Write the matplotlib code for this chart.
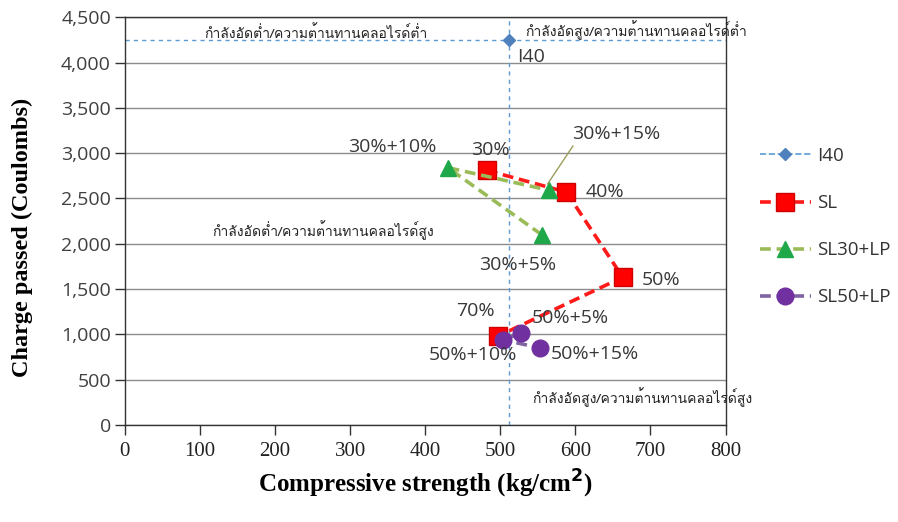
import matplotlib
matplotlib.use("Agg")
import matplotlib.pyplot as plt
from matplotlib import font_manager
from matplotlib.ft2font import FT2Font

# ---- data -------------------------------------------------------------
i40_x = [512]
i40_y = [4250]

sl_x = [482, 588, 663, 497]
sl_y = [2810, 2570, 1630, 980]
sl_labels = ["30%", "40%", "50%", "70%"]

sl30_x = [555, 430, 565]
sl30_y = [2100, 2840, 2590]
sl30_labels = ["30%+5%", "30%+10%", "30%+15%"]

sl50_x = [527, 503, 553]
sl50_y = [1010, 940, 850]
sl50_labels = ["50%+5%", "50%+10%", "50%+15%"]

quadrant_texts = [
    "กำลังอัดต่ำ/ความต้านทานคลอไรด์ต่ำ",
    "กำลังอัดสูง/ความต้านทานคลอไรด์ต่ำ",
    "กำลังอัดต่ำ/ความต้านทานคลอไรด์สูง",
    "กำลังอัดสูง/ความต้านทานคลอไรด์สูง",
]

x_ticks = list(range(0, 801, 100))
y_ticks = list(range(0, 4501, 500))


def find_thai_family():
    for f in font_manager.fontManager.ttflist:
        try:
            if 0x0E01 in FT2Font(f.fname).get_charmap():
                return f.name
        except Exception:
            pass
    return None


thai = find_thai_family()
thai_family = [thai, "DejaVu Sans"] if thai else ["DejaVu Sans"]
sans = ["Open Sans", "DejaVu Sans"]

fig = plt.figure(figsize=(8.98, 5.22), dpi=100)
ax = fig.add_axes([0.139, 0.186, 0.669, 0.781])

ax.set_xlim(0, 800)
ax.set_ylim(0, 4500)
ax.set_xticks(x_ticks)
ax.set_yticks(y_ticks)
ax.set_yticklabels([f"{v:,}" for v in y_ticks], fontsize=14,
                   family=sans, color="#404040")
ax.set_xticklabels([str(v) for v in x_ticks], fontsize=15,
                   family="Liberation Serif", color="#222222")
ax.tick_params(direction="out", length=7, width=1, color="#333333")
ax.tick_params(axis="x", pad=5)
ax.tick_params(axis="y", pad=3)
ax.yaxis.grid(True, color="#8c8c8c", linewidth=1.0)
ax.set_axisbelow(True)
for s in ax.spines.values():
    s.set_color("#333333")
    s.set_linewidth(1.0)

# reference cross through the I40 mix
ax.axhline(i40_y[0], color="#5b9bd5", linestyle=(0, (3, 3)), linewidth=1.0, zorder=2)
ax.axvline(i40_x[0], color="#5b9bd5", linestyle=(0, (3, 3)), linewidth=1.0, zorder=2)

ax.plot(i40_x, i40_y, linestyle="--", color="#5b9bd5", marker="D",
        markersize=6, markerfacecolor="#4f81bd", markeredgecolor="#4f81bd",
        linewidth=1.2, label="I40", zorder=5)
ax.plot(sl_x, sl_y, linestyle=(0, (3, 1.6)), color="#ff1a1a", linewidth=2.6,
        marker="s", markersize=12.5, markerfacecolor="#ff0000",
        markeredgecolor="#cc0000", label="SL", zorder=4)
ax.plot(sl30_x, sl30_y, linestyle=(0, (3, 1.6)), color="#9bbb59", linewidth=2.6,
        marker="^", markersize=12, markerfacecolor="#1fa84a",
        markeredgecolor="#1fa84a", label="SL30+LP", zorder=5)
ax.plot(sl50_x, sl50_y, linestyle=(0, (3, 1.6)), color="#8064a2", linewidth=2.6,
        marker="o", markersize=12, markerfacecolor="#7030a0",
        markeredgecolor="#7030a0", label="SL50+LP", zorder=6)

lab_kw = dict(fontsize=14, family=sans, color="#383838", zorder=7)
ax.text(i40_x[0] + 10, i40_y[0] - 90, "I40", ha="left", va="top", **lab_kw)

# SL labels
ax.text(sl_x[0] + 5, sl_y[0] + 120, sl_labels[0], ha="center", va="bottom", **lab_kw)
ax.text(sl_x[1] + 26, sl_y[1], sl_labels[1], ha="left", va="center", **lab_kw)
ax.text(sl_x[2] + 26, sl_y[2] - 30, sl_labels[2], ha="left", va="center", **lab_kw)
ax.text(sl_x[3] - 5, sl_y[3] + 180, sl_labels[3], ha="right", va="bottom", **lab_kw)

# SL30+LP labels
ax.text(sl30_x[0] - 32, sl30_y[0] - 340, sl30_labels[0], ha="center", va="center", **lab_kw)
ax.text(sl30_x[1] - 15, sl30_y[1] + 130, sl30_labels[1], ha="right", va="bottom", **lab_kw)
ax.annotate(sl30_labels[2], xy=(sl30_x[2] - 2, sl30_y[2] + 70),
            xytext=(sl30_x[2] + 30, sl30_y[2] + 520),
            ha="left", va="bottom",
            arrowprops=dict(arrowstyle="-", color="#9c9c5c", linewidth=1.0,
                            shrinkA=0, shrinkB=0, relpos=(0.05, 0.1)),
            **lab_kw)

# SL50+LP labels
ax.text(sl50_x[0] + 15, sl50_y[0] + 75, sl50_labels[0], ha="left", va="bottom", **lab_kw)
ax.text(sl50_x[1] + 19, sl50_y[1] - 70, sl50_labels[1], ha="right", va="top", **lab_kw)
ax.text(sl50_x[2] + 14, sl50_y[2] - 70, sl50_labels[2], ha="left", va="center", **lab_kw)

th_kw = dict(fontsize=10, family=thai_family, color="#222222", zorder=7,
             clip_on=False)
ax.text(254, 4320, quadrant_texts[0], ha="center", va="center", **th_kw)
ax.text(533, 4355, quadrant_texts[1], ha="left", va="center", **th_kw)
ax.text(117, 2150, quadrant_texts[2], ha="left", va="center", **th_kw)
ax.text(543, 310, quadrant_texts[3], ha="left", va="center", **th_kw)

ax.set_xlabel("Compressive strength (kg/cm$^\\mathbf{2}$)", fontsize=18,
              fontweight="bold", family="Liberation Serif", labelpad=5)
ax.set_ylabel("Charge passed (Coulombs)", fontsize=17.5, fontweight="bold",
              family="Liberation Serif")
ax.yaxis.set_label_coords(-0.153, 0.46)

leg = ax.legend(loc="upper left", bbox_to_anchor=(1.045, 0.70), frameon=False,
                prop={"family": sans, "size": 13.5}, labelspacing=1.55,
                handlelength=2.7, handletextpad=0.35, borderaxespad=0)
for t in leg.get_texts():
    t.set_color("#333333")

fig.savefig("out.png", dpi=100)
